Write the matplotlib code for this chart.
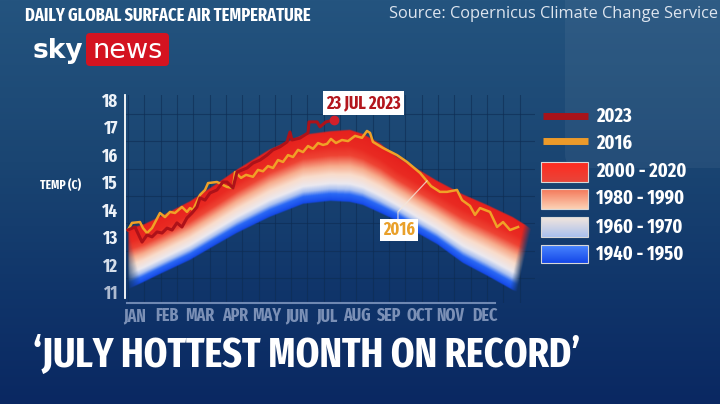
import os
import numpy as np
import matplotlib
matplotlib.use('Agg')
import matplotlib.pyplot as plt
from matplotlib import font_manager as fm
from matplotlib.colors import LinearSegmentedColormap
from matplotlib.patches import FancyBboxPatch, Rectangle
from matplotlib.ticker import MultipleLocator

# climate band (day of year -> upper / lower edge, deg C)
band_days = [0, 14, 29, 57, 80, 100, 130, 161, 186, 204, 216, 232, 247, 266, 284, 308, 330, 354, 365, 372]
band_top = [13.30, 13.45, 13.73, 14.30, 14.90, 15.45, 16.18, 16.72, 16.85, 16.90, 16.75, 16.40, 15.92,
            15.48, 15.05, 14.55, 14.17, 13.72, 13.45, 13.25]
band_bottom = [11.10, 11.36, 11.65, 12.17, 12.70, 13.15, 13.73, 14.21, 14.32, 14.28, 14.17, 13.88, 13.60,
               13.15, 12.75, 12.06, 11.60, 11.07, 10.90, 10.75]

# 2016 daily line
days_2016 = [0, 3.7, 11, 13.8, 17.5, 22.1, 29.4, 34, 38.6, 43.2, 49.6, 54.2, 57, 59.8, 66.2, 70.8, 73.6,
             81.8, 91, 96.5, 98.4, 103.9, 108.5, 114.9, 119.5, 124.1, 128.7, 133.3, 137.9, 142.5, 147.1,
             151.7, 156.3, 160.9, 165.5, 170.1, 174.7, 179.3, 183, 186.6, 191.2, 196.7, 202.3, 208.7,
             215.1, 219.7, 222.5, 225.2, 234.4, 247.3, 256.5, 268.5, 278.6, 286.8, 293.3, 302.5, 307.1,
             314.4, 319, 323.6, 332.8, 339.3, 344.8, 351.2, 358.6]
temp_2016 = [13.26, 13.52, 13.55, 13.33, 13.15, 13.33, 13.88, 13.73, 13.92, 13.88, 14.10, 13.92, 14.06,
             13.99, 14.54, 14.72, 14.97, 15.01, 14.83, 14.79, 15.37, 15.16, 15.27, 15.20, 15.45, 15.40,
             15.59, 15.52, 15.81, 15.74, 15.99, 15.92, 16.18, 16.10, 16.32, 16.22, 16.43, 16.36, 16.40,
             16.58, 16.43, 16.54, 16.50, 16.69, 16.62, 16.87, 16.80, 16.47, 16.25, 15.99, 15.74, 15.34,
             14.86, 14.65, 14.65, 14.72, 14.35, 14.14, 13.81, 14.06, 13.92, 13.37, 13.55, 13.26, 13.37]

# 2023 daily line (up to 23 Jul)
days_2023 = [0, 6.4, 12.9, 17.5, 22.1, 26.7, 31.3, 35.9, 40.5, 45, 49.6, 54.2, 58.8, 63.4, 66.2, 70.8,
             75.4, 81.8, 87.3, 91, 96.5, 100.2, 109.4, 114.9, 121.4, 127.8, 133.3, 139.7, 146.2, 148.9,
             150.8, 158.1, 165.5, 166.4, 173.8, 176.5, 182, 189.4]
temp_2023 = [13.26, 13.37, 12.82, 13.08, 13.01, 13.19, 13.15, 13.33, 13.26, 13.52, 13.37, 13.70, 13.88,
             14.10, 14.43, 14.35, 14.61, 14.72, 15.01, 15.01, 14.79, 15.37, 15.52, 15.70, 15.81, 15.99,
             16.18, 16.29, 16.47, 16.83, 16.54, 16.61, 16.80, 17.20, 17.20, 17.02, 17.20, 17.27]

y_ticks = [11, 12, 13, 14, 15, 16, 17, 18]
months = ['JAN', 'FEB', 'MAR', 'APR', 'MAY', 'JUN', 'JUL', 'AUG', 'SEP', 'OCT', 'NOV', 'DEC']
month_pos = [6.4, 35.9, 66.2, 98.4, 127.8, 155.4, 183.0, 210.6, 239.1, 268.5, 296.1, 328.3]

legend_labels = ['2023', '2016', '2000 - 2020', '1980 - 1990', '1960 - 1970', '1940 - 1950']


def find_condensed():
    # look for a bold condensed face among the installed fonts
    best = None
    for f in fm.fontManager.ttflist:
        key = (f.name + ' ' + os.path.basename(f.fname)).lower().replace(' ', '').replace('-', '')
        if 'italic' in key or 'oblique' in key or f.style != 'normal':
            continue
        if 'extracondensed' in key and 'ultra' not in key:
            rank = 0
        elif 'semicondensed' in key:
            rank = 2
        elif 'condensed' in key and 'ultra' not in key:
            rank = 1
        elif 'narrow' in key:
            rank = 3
        else:
            continue
        w = f.weight if isinstance(f.weight, int) else fm.weight_dict.get(f.weight, 400)
        score = (rank, abs(w - 700))
        if best is None or score < best[0]:
            best = (score, f.fname)
    return best[1] if best else None


cond_file = find_condensed()
if cond_file:
    COND = dict(fontproperties=fm.FontProperties(fname=cond_file))
else:
    COND = dict(fontproperties=fm.FontProperties(family='DejaVu Sans', weight='bold'))
REG = dict(fontproperties=fm.FontProperties(family=['Open Sans', 'DejaVu Sans']))

W, H = 720, 404
fig = plt.figure(figsize=(W / 100, H / 100), dpi=100)
renderer = fig.canvas.get_renderer()


def size_for(s, width, cap, style):
    # font size that gives the text the reference's width, no taller than its cap height
    t = fig.text(0, 0, s, **style)
    t.set_fontsize(20)
    w = t.get_window_extent(renderer).width
    t.remove()
    return min(20 * width / w, cap)


def put(axes, x, y, s, width, cap, style, **kw):
    t = axes.text(x, y, s, **style, **kw)
    t.set_fontsize(size_for(s, width, cap, style))
    return t


# background
bg = fig.add_axes([0, 0, 1, 1], zorder=0)
bg_cmap = LinearSegmentedColormap.from_list('bg', [(0, '#24547f'), (0.4, '#1a4572'), (0.72, '#10356a'), (1, '#0a2862')])
bg.imshow(np.linspace(0, 1, 256).reshape(-1, 1), cmap=bg_cmap, aspect='auto', extent=[0, W, H, 0])
bg.add_patch(FancyBboxPatch((565, -20), 180, 188, boxstyle='round,pad=0,rounding_size=14',
                            fc='white', alpha=0.05, ec='none'))
bg.set_xlim(0, W)
bg.set_ylim(H, 0)
bg.axis('off')

# chart
px_day = 1.0877
x0 = -3 / px_day
ax = fig.add_axes([125 / W, 1 - 303 / H, 410 / W, 208 / H], zorder=1)
ax.patch.set_visible(False)

band_cmap = LinearSegmentedColormap.from_list('band', [
    (0.0, '#1448e8'), (0.1, '#2a68f5'), (0.17, '#a9c0f0'), (0.25, '#ebe9f0'), (0.38, '#f9dccb'),
    (0.5, '#f7ab8c'), (0.65, '#ee4434'), (0.78, '#e92a22'), (1.0, '#e6211d')])
dd = np.linspace(-3, 375, 1400)
tt = np.linspace(10.4, 17.4, 700)
D, T = np.meshgrid(dd, tt)
top = np.interp(D, band_days, band_top)
bot = np.interp(D, band_days, band_bottom)
frac = (T - bot) / (top - bot)
rgba = band_cmap(np.clip(frac, 0, 1))
a_in = np.clip(np.minimum(frac, 1 - frac) * (top - bot) / 0.05 + 0.5, 0, 1)
a_l = np.clip(D / 12 + frac * 0.95, 0, 1) * np.clip((D + 0.5) / 1.5, 0, 1)
a_r = np.clip((358 + 13 * frac - D) / 7, 0, 1)
rgba[..., 3] = a_in * a_l * a_r
ax.imshow(rgba, extent=[dd[0], dd[-1], tt[0], tt[-1]], origin='lower', aspect='auto',
          interpolation='bilinear', zorder=1)

ax.plot(days_2016, temp_2016, color='#f0a127', lw=1.8, zorder=3)
ax.plot(days_2023, temp_2023, color='#ad1219', lw=2.2, zorder=4)
ax.plot(days_2023[-1], temp_2023[-1], 'o', ms=6, color='#d2202a', zorder=5)

# 2016 pointer
ax.plot([248.2, 248.2, 274.9], [13.59, 13.92, 15.05], color='#f4e6da', lw=0.9, alpha=0.8, zorder=5)
put(ax, 249.2, 13.26, '2016', 32, 14, COND, color='#e9a02a', ha='center', va='center', zorder=6,
    bbox=dict(boxstyle='square,pad=0.15', fc='white', ec='none'))

ax.set_xlim(x0, x0 + 410 / px_day)
ax.set_ylim(10.6, 18.18)
ax.set_yticks(y_ticks, [str(v) for v in y_ticks])
ax.set_xticks(month_pos, months)
ysize = size_for('18', 16, 14.5, COND)
xsize = size_for('JAN', 27, 12.5, COND)
ylab_colors = ['#aebbd0', '#d5deea'] + ['#edf2f8'] * 6
for lab, c in zip(ax.get_yticklabels(), ylab_colors):
    lab.set_fontproperties(COND['fontproperties'])
    lab.set_fontsize(ysize)
    lab.set_color(c)
for lab in ax.get_xticklabels():
    lab.set_fontproperties(COND['fontproperties'])
    lab.set_fontsize(xsize)
    lab.set_color('#7b90b6')
ax.tick_params(axis='y', pad=5, length=0)
ax.tick_params(axis='x', pad=3, length=0)
ax.tick_params(which='minor', length=0)
ax.xaxis.set_minor_locator(MultipleLocator(15))
ax.yaxis.set_minor_locator(MultipleLocator(0.5))
ax.set_axisbelow(True)
ax.grid(which='minor', color='#0e2c52', lw=0.8, alpha=0.6)

for s in ['top', 'right']:
    ax.spines[s].set_visible(False)
ax.spines['left'].set_bounds(10.78, 18.18)
ax.spines['left'].set_color('white')
ax.spines['left'].set_linewidth(1.3)
ax.spines['bottom'].set_bounds(x0 + 2 / px_day, 337.4)
ax.spines['bottom'].set_color('#6f88b2')
ax.spines['bottom'].set_linewidth(1.5)

# overlay in pixel coordinates
ov = fig.add_axes([0, 0, 1, 1], zorder=3)
ov.set_xlim(0, W)
ov.set_ylim(H, 0)
ov.axis('off')

put(ov, 25, 15.5, 'DAILY GLOBAL SURFACE AIR TEMPERATURE', 285, 14, COND, color='white',
    va='center', ha='left')
put(ov, 718, 14, 'Source: Copernicus Climate Change Service', 330, 12, REG, color='#dde5ef',
    ha='right', va='center')

# logo
ov.text(33, 58, 'sky', color='white', fontsize=19, fontweight='heavy', family='DejaVu Sans',
        va='baseline', ha='left')
ov.add_patch(FancyBboxPatch((86, 33), 83, 33, boxstyle='round,pad=0,rounding_size=4',
                            fc='#d41320', ec='none'))
ov.text(127.5, 57.5, 'news', color='white', fontsize=19.5, ha='center', va='baseline',
        family='DejaVu Sans')

put(ov, 40, 185, 'TEMP (C)', 58, 9, COND, color='white', va='center', ha='left')
put(ov, 363.5, 103, '23 JUL 2023', 75, 15, COND, color='#b3161d', ha='center', va='center',
    bbox=dict(boxstyle='square,pad=0.18', fc='white', ec='none'))

# legend
ov.plot([543, 588], [116, 116], color='#a8131a', lw=5, solid_capstyle='butt')
ov.plot([543, 588], [141, 141], color='#ec9a2a', lw=5, solid_capstyle='butt')
swatches = [(162, 182, '#ff2b1f', '#e8453a'), (189, 209, '#f4785a', '#fcd2b5'),
            (217, 237, '#f3e6dc', '#a9c0ef'), (245, 263, '#4a86ff', '#1447e8')]
for y0, y1, c_top, c_bot in swatches:
    cm = LinearSegmentedColormap.from_list('sw', [c_top, c_bot])
    ov.imshow(np.linspace(0, 1, 64).reshape(-1, 1), cmap=cm, aspect='auto', extent=[541, 588, y1, y0])
    ov.add_patch(Rectangle((541, y0), 47, y1 - y0, fc='none', ec='#d8d8d8', lw=0.8))
ov.set_xlim(0, W)
ov.set_ylim(H, 0)
lsize = size_for('2000 - 2020', 90, 16, COND)
for lab, yc in zip(legend_labels, [116, 143, 171, 198, 227, 254]):
    t = ov.text(596, yc, lab, color='white', va='center', ha='left', **COND)
    t.set_fontsize(lsize)

put(ov, 33, 356, '\u2018JULY HOTTEST MONTH ON RECORD\u2019', 547, 32, COND, color='white',
    va='center', ha='left')

fig.savefig('out.png', dpi=100)
